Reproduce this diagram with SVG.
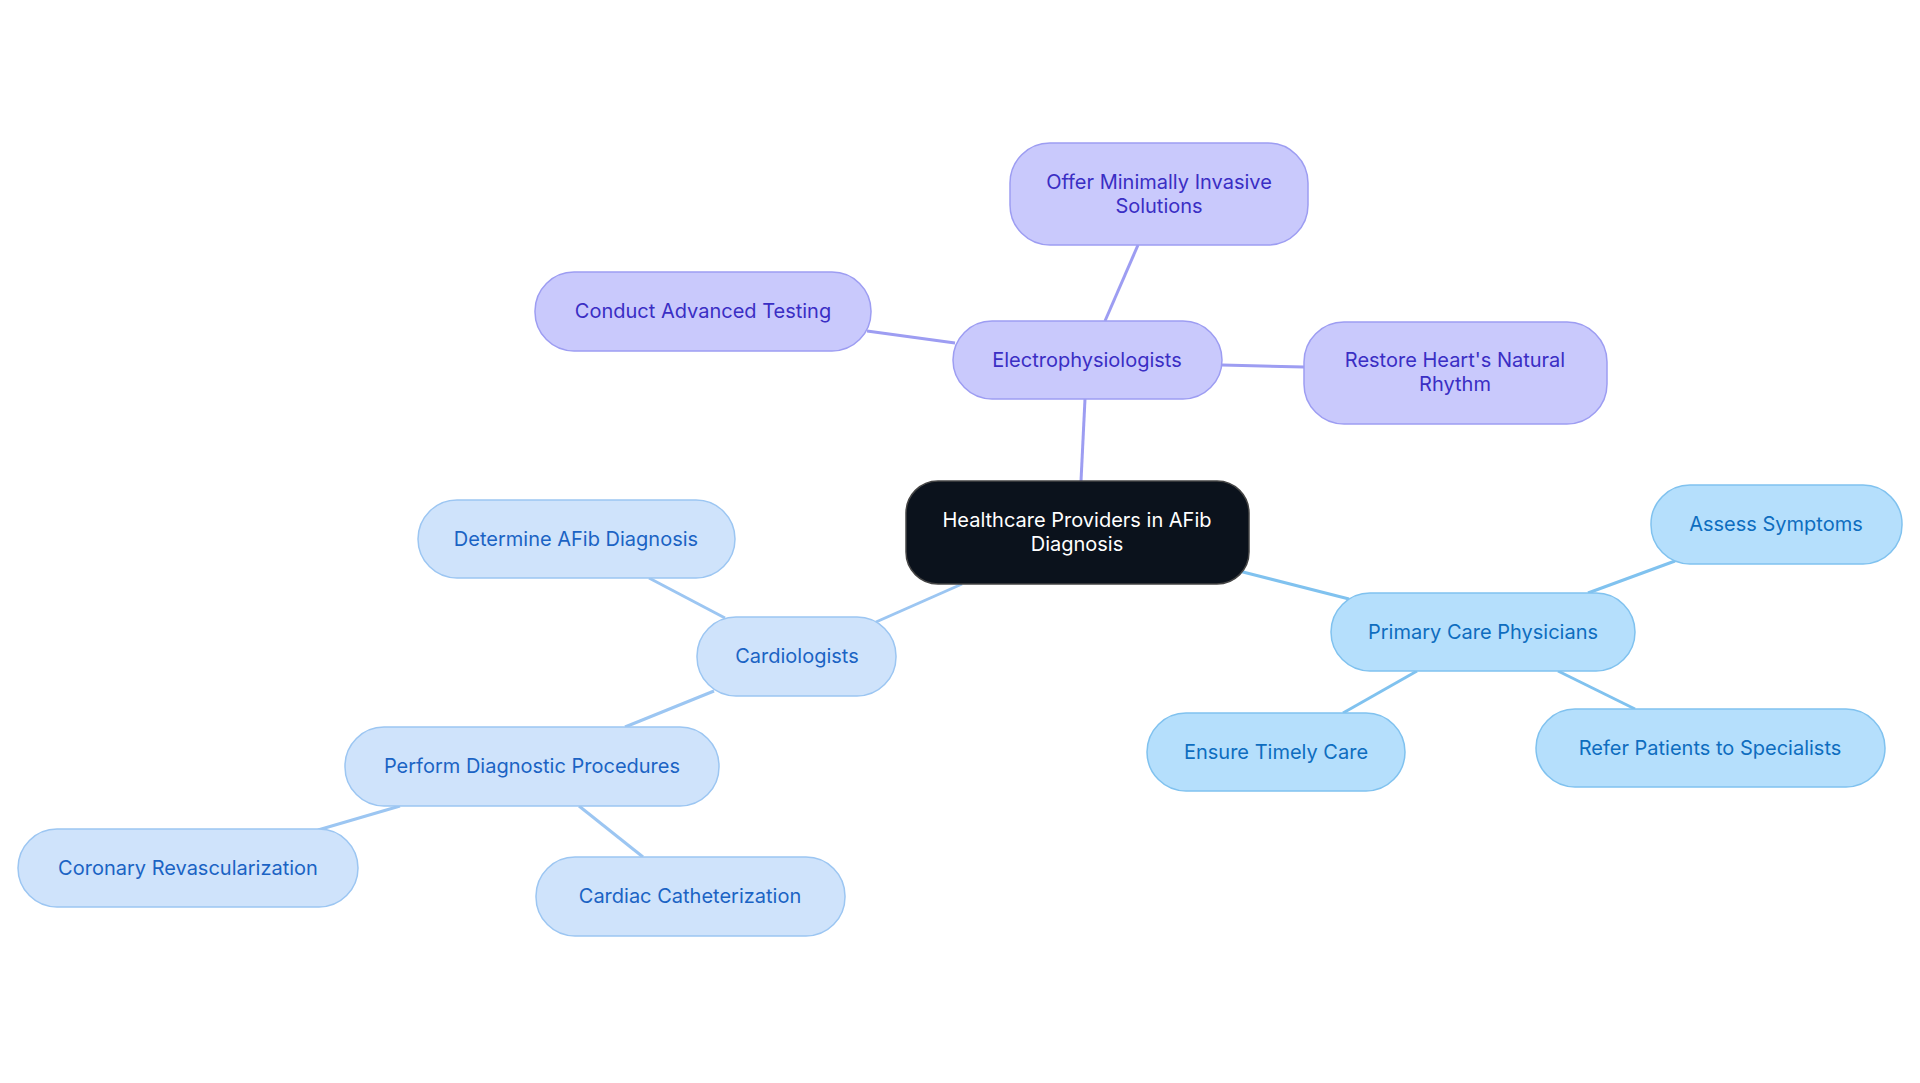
<svg xmlns="http://www.w3.org/2000/svg" width="1920" height="1083" viewBox="0 0 1920 1083">
<style>
text{font-family:Inter,"Noto Sans",sans-serif;font-size:20px;text-anchor:middle;dominant-baseline:central}
.p rect{fill:#c9c9fc;stroke:#9d9df2;stroke-width:1.5}.p text{fill:#3a2ec4}
.c rect{fill:#cfe3fb;stroke:#9cc6f2;stroke-width:1.5}.c text{fill:#1b63c4}
.b rect{fill:#b5dffc;stroke:#80c2ef;stroke-width:1.5}.b text{fill:#0e6dbf}
.e line{stroke-width:3}
</style>
<rect width="1920" height="1083" fill="#fff"/>
<g class="e">
<g stroke="#9d9df2"><line x1="1081" y1="481" x2="1085" y2="399"/><line x1="1105" y1="321" x2="1138" y2="245"/><line x1="955" y1="343" x2="867" y2="331"/><line x1="1222" y1="365" x2="1304" y2="367"/></g>
<g stroke="#9cc6f2"><line x1="962" y1="584" x2="876" y2="622"/><line x1="725" y1="618" x2="649" y2="578"/><line x1="714" y1="691" x2="625" y2="727"/><line x1="400" y1="806" x2="318" y2="830"/><line x1="579" y1="806" x2="643" y2="857"/></g>
<g stroke="#80c2ef"><line x1="1239" y1="571" x2="1349" y2="599"/><line x1="1588" y1="593" x2="1675" y2="561"/><line x1="1417" y1="671" x2="1343" y2="713"/><line x1="1558" y1="671" x2="1635" y2="709"/></g>
</g>
<g id="center"><rect x="906" y="481" width="343" height="103" rx="32" fill="#0b121c" stroke="#444" stroke-width="1.5"/><text x="1077" y="520" fill="#fff">Healthcare Providers in AFib</text><text x="1077" y="544" fill="#fff">Diagnosis</text></g>
<g id="electro" class="p"><rect x="953" y="321" width="269" height="78" rx="39"/><text x="1087" y="360">Electrophysiologists</text></g>
<g id="offer" class="p"><rect x="1010" y="143" width="298" height="102" rx="40"/><text x="1159" y="182">Offer Minimally Invasive</text><text x="1159" y="206">Solutions</text></g>
<g id="conduct" class="p"><rect x="535" y="272" width="336" height="79" rx="39"/><text x="703" y="311">Conduct Advanced Testing</text></g>
<g id="restore" class="p"><rect x="1304" y="322" width="303" height="102" rx="40"/><text x="1455" y="360">Restore Heart's Natural</text><text x="1455" y="384">Rhythm</text></g>
<g id="cardio" class="c"><rect x="697" y="617" width="199" height="79" rx="39"/><text x="797" y="656">Cardiologists</text></g>
<g id="determine" class="c"><rect x="418" y="500" width="317" height="78" rx="39"/><text x="576" y="539">Determine AFib Diagnosis</text></g>
<g id="perform" class="c"><rect x="345" y="727" width="374" height="79" rx="39"/><text x="532" y="766">Perform Diagnostic Procedures</text></g>
<g id="coronary" class="c"><rect x="18" y="829" width="340" height="78" rx="39"/><text x="188" y="868">Coronary Revascularization</text></g>
<g id="cath" class="c"><rect x="536" y="857" width="309" height="79" rx="39"/><text x="690" y="896">Cardiac Catheterization</text></g>
<g id="pcp" class="b"><rect x="1331" y="593" width="304" height="78" rx="39"/><text x="1483" y="632">Primary Care Physicians</text></g>
<g id="assess" class="b"><rect x="1651" y="485" width="251" height="79" rx="39"/><text x="1776" y="524">Assess Symptoms</text></g>
<g id="ensure" class="b"><rect x="1147" y="713" width="258" height="78" rx="39"/><text x="1276" y="752">Ensure Timely Care</text></g>
<g id="refer" class="b"><rect x="1536" y="709" width="349" height="78" rx="39"/><text x="1710" y="748">Refer Patients to Specialists</text></g>
</svg>
